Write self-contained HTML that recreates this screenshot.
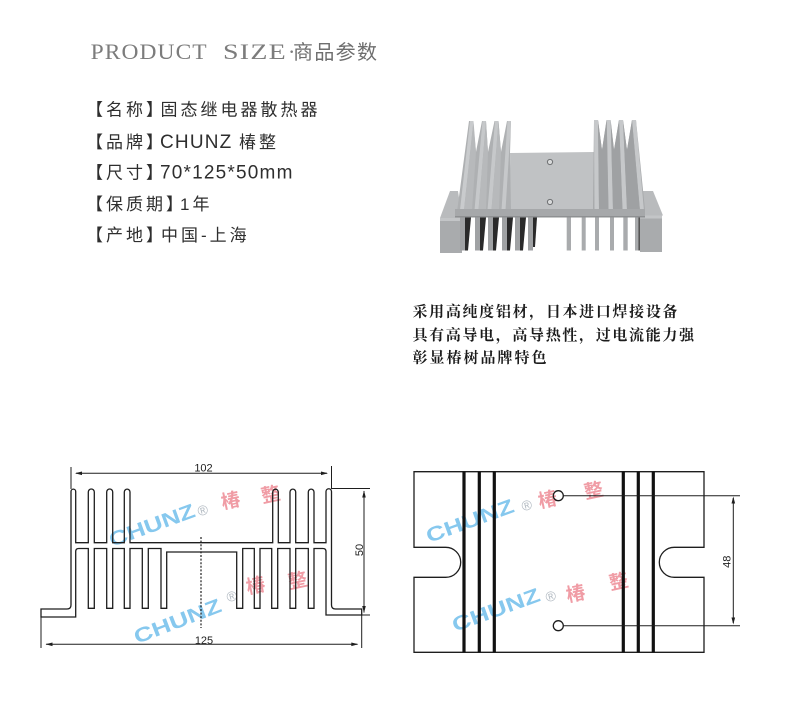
<!DOCTYPE html>
<html><head><meta charset="utf-8"><style>
html,body{margin:0;padding:0;background:#fff;}
svg{display:block;}
</style></head><body>
<svg width="800" height="713" viewBox="0 0 800 713" xmlns="http://www.w3.org/2000/svg">
<rect width="800" height="713" fill="#fff"/>

<!-- Header -->
<g font-family="'Liberation Serif',serif" font-size="22" fill="#7c7c7c">
<text x="90.7" y="59" textLength="117" lengthAdjust="spacingAndGlyphs" letter-spacing="1">PRODUCT</text>
<text x="223" y="59" textLength="64" lengthAdjust="spacingAndGlyphs" letter-spacing="1">SIZE</text>
<text x="288" y="59">·</text>
</g>
<text x="293" y="59" font-family="'Noto Sans CJK SC',sans-serif" font-size="20" fill="#6e6e6e" textLength="84" lengthAdjust="spacing">商品参数</text>

<!-- Spec list -->
<g font-family="'Liberation Sans','Noto Sans CJK SC',sans-serif" font-size="17" fill="#2e2e2e" letter-spacing="3">
<text x="86" y="115.5">【名称】</text><text x="160.5" y="115.5">固态继电器散热器</text>
<text x="86" y="148">【品牌】</text>
<text x="86" y="178.5">【尺寸】</text>
<text x="86" y="209.8">【保质期】</text><text x="180" y="209.8">1年</text>
<text x="86" y="240.8">【产地】</text><text x="161" y="240.8">中国-上海</text>
</g>
<g font-family="'Liberation Sans','Noto Sans CJK SC',sans-serif" font-size="19" fill="#2e2e2e" letter-spacing="1.2">
<text x="160" y="148">CHUNZ <tspan font-size="17" letter-spacing="3">椿整</tspan></text>
<text x="160" y="178.5">70*125*50mm</text>
</g>

<!-- Photo of heatsink -->
<g>
<!-- left flange -->
<polygon points="450,191 458,191 462,218 440,218" fill="#b9bbbd"/>
<rect x="440" y="218" width="22" height="35" fill="#a9abad"/>
<rect x="440" y="218" width="22" height="3" fill="#c3c5c7"/>
<!-- right flange -->
<polygon points="641.7,191 653,191 663,215.5 643,215.5" fill="#b9bbbd"/>
<rect x="640" y="215.5" width="22" height="36.5" fill="#a9abad"/>
<rect x="640" y="215.5" width="22" height="3" fill="#c3c5c7"/>
<!-- left upper fins block -->
<polygon points="457,212 469,121 473,121 476,152 482,121 486,121 488,152 494.5,121 498.5,121 501,152 507,121 511,121 510,153 512,212" fill="#aeb0b2"/>
<polygon points="470,121 473.5,121 464,210 460,210" fill="#c9cbcd"/>
<polygon points="482.5,121 486,121 478.5,210 474.5,210" fill="#c6c8ca"/>
<polygon points="495,121 498.5,121 491.5,210 487.5,210" fill="#c6c8ca"/>
<polygon points="507.5,121 511,121 505.5,210 501.5,210" fill="#c6c8ca"/>
<polygon points="464,210 473.5,121 476,152 472,210" fill="#b7b9bb"/>
<polygon points="478.5,210 486,121 488,152 486,210" fill="#b7b9bb"/>
<polygon points="491.5,210 498.5,121 501,152 499,210" fill="#b7b9bb"/>
<!-- plate top -->
<polygon points="510,153 594,152 594,209 511,209" fill="#c0c2c4"/>
<circle cx="550" cy="162" r="2.6" fill="#d8d9da" stroke="#6f7173" stroke-width="1"/>
<circle cx="550" cy="202" r="2.6" fill="#d8d9da" stroke="#6f7173" stroke-width="1"/>
<!-- right upper fins block -->
<polygon points="593,210 594,120 598,120 602,150 606.5,120 610.5,120 614,150 619,120 623,120 627,150 632,120 636,120 643,190 645,210" fill="#a7a9ab"/>
<polygon points="594,120 598,120 599,210 594.5,210" fill="#c6c8ca"/>
<polygon points="606.7,120 610.7,120 613,210 608.5,210" fill="#c6c8ca"/>
<polygon points="619,120 623,120 627,210 622.5,210" fill="#c6c8ca"/>
<polygon points="632,120 636,120 644,211 640,211" fill="#c6c8ca"/>
<polygon points="599,210 598,120 602,150 606.7,120 608.5,210" fill="#9fa1a3"/>
<polygon points="613,210 610.7,120 614,150 619,120 622.5,210" fill="#9fa1a3"/>
<polygon points="627,210 623,120 627,150 632,120 640,211" fill="#9fa1a3"/>
<!-- plate front band -->
<rect x="455" y="209" width="190" height="8.5" fill="#a6a8aa"/>
<rect x="455" y="216" width="190" height="1.5" fill="#8e9092"/>
<!-- lower left fins -->
<g fill="#2a2a2a">
<polygon points="465,217.5 471,217.5 468,250.5 465,250.5"/>
<polygon points="480,217.5 486,217.5 483,250.5 480,250.5"/>
<polygon points="493,217.5 499,217.5 496,250.5 493,250.5"/>
<polygon points="507,217.5 513,217.5 510,250.5 507,250.5"/>
<polygon points="520,217.5 526,217.5 523,250.5 520,250.5"/>
<polygon points="533,217.5 537,217.5 535,247 533,247"/>
</g>
<g fill="#a0a2a4">
<rect x="460" y="217.5" width="5" height="33"/><rect x="475" y="217.5" width="5" height="33"/>
<rect x="488" y="217.5" width="5" height="33"/><rect x="502" y="217.5" width="5" height="33"/>
<rect x="515" y="217.5" width="5" height="33"/><rect x="528" y="217.5" width="5" height="33"/>
</g>
<!-- lower right fins -->
<g fill="#a9abad">
<rect x="566.7" y="217.5" width="4.3" height="33"/><rect x="581.7" y="217.5" width="4" height="33"/>
<rect x="595" y="217.5" width="4" height="33"/><rect x="610" y="217.5" width="4" height="33"/>
<rect x="623.3" y="217.5" width="4.4" height="33"/><rect x="635" y="217.5" width="3.3" height="33"/>
</g>
<rect x="638.3" y="217.5" width="1.7" height="33" fill="#555"/>
</g>

<!-- Description text -->
<g font-family="'Noto Serif CJK SC','Noto Sans CJK SC',serif" font-size="15" font-weight="700" fill="#1c1c1c">
<text x="412.5" y="316.4" textLength="265" lengthAdjust="spacing">采用高纯度铝材，日本进口焊接设备</text>
<text x="412.5" y="340" textLength="281.5" lengthAdjust="spacing">具有高导电，高导热性，过电流能力强</text>
<text x="412.5" y="362.4" textLength="134" lengthAdjust="spacing">彰显椿树品牌特色</text>
</g>

<!-- Watermarks -->
<g font-family="'Liberation Sans','Noto Sans CJK SC',sans-serif" font-weight="700">
<text x="0" y="0" transform="translate(112,547) rotate(-20)" font-size="20" fill="#86c8ee" textLength="90" lengthAdjust="spacingAndGlyphs">CHUNZ</text>
<text x="0" y="0" transform="translate(204,515) rotate(-15)" font-size="14" fill="#b2bac2" font-weight="400" text-anchor="middle">®</text>
<text x="0" y="0" transform="translate(232,507) rotate(-12)" font-size="19" fill="#f09ca5" text-anchor="middle">椿</text>
<text x="0" y="0" transform="translate(272,501) rotate(-12)" font-size="19" fill="#f09ca5" text-anchor="middle">整</text>

<text x="0" y="0" transform="translate(137,644) rotate(-21)" font-size="20" fill="#86c8ee" textLength="92" lengthAdjust="spacingAndGlyphs">CHUNZ</text>
<text x="0" y="0" transform="translate(233,601) rotate(-15)" font-size="14" fill="#b2bac2" font-weight="400" text-anchor="middle">®</text>
<text x="0" y="0" transform="translate(257,592) rotate(-12)" font-size="19" fill="#f09ca5" text-anchor="middle">椿</text>
<text x="0" y="0" transform="translate(299,587) rotate(-12)" font-size="19" fill="#f09ca5" text-anchor="middle">整</text>

<text x="0" y="0" transform="translate(429,543) rotate(-20)" font-size="20" fill="#86c8ee" textLength="92" lengthAdjust="spacingAndGlyphs">CHUNZ</text>
<text x="0" y="0" transform="translate(528,510) rotate(-15)" font-size="14" fill="#b2bac2" font-weight="400" text-anchor="middle">®</text>
<text x="0" y="0" transform="translate(549,506) rotate(-12)" font-size="19" fill="#f09ca5" text-anchor="middle">椿</text>
<text x="0" y="0" transform="translate(595,497) rotate(-12)" font-size="19" fill="#f09ca5" text-anchor="middle">整</text>

<text x="0" y="0" transform="translate(455,632) rotate(-20)" font-size="20" fill="#86c8ee" textLength="92" lengthAdjust="spacingAndGlyphs">CHUNZ</text>
<text x="0" y="0" transform="translate(552,601) rotate(-15)" font-size="14" fill="#b2bac2" font-weight="400" text-anchor="middle">®</text>
<text x="0" y="0" transform="translate(577,600) rotate(-12)" font-size="19" fill="#f09ca5" text-anchor="middle">椿</text>
<text x="0" y="0" transform="translate(620,588) rotate(-12)" font-size="19" fill="#f09ca5" text-anchor="middle">整</text>
</g>

<!-- Left drawing -->
<g fill="none" stroke="#1e1e1e" stroke-width="1.3">
<path d="M71,605 V491.5 A2.35,2.35 0 0 1 75.7,491.5 V542.7 H88.3
V492 A3,3 0 0 1 94.3,492 V542.7 H106.7
V492 A3,3 0 0 1 112.7,492 V542.7 H124.3
V492 A2.85,2.85 0 0 1 130,492 V542.7 H272.7
V492 A2.8,2.8 0 0 1 278.3,492 V542.7 H290
V492 A2.85,2.85 0 0 1 295.7,492 V542.7 H308.3
V492 A2.85,2.85 0 0 1 314,492 V542.7 H326
V491.5 A2.75,2.75 0 0 1 331.5,491.5
V605 Q331.5,609 335.5,609 H361.7 V615 H326 V551.5 Q326,548.5 323,548.5 H314
V608.3 H308.3 V548.5 H295.7 V608.3 H290 V548.5 H277.7 V608.3 H271.7 V548.5 H260 V608.3 H254.3 V548.5 H242.7 V608.3 H236.7 V552 H166.7 V608.3 H161 V548.5 H148.3 V608.3 H142.3 V548.5 H130 V608.3 H124.3 V548.5 H112.7 V608.3 H106.7 V548.5 H94.3 V608.3 H88.3 V548.5 H78.7 Q75.7,548.5 75.7,551.5 V617 H41 V609 H67 Q71,609 71,605 Z"/>
</g>
<g stroke="#1e1e1e" stroke-width="1" fill="none">
<!-- 102 dimension -->
<line x1="71" y1="467" x2="71" y2="489"/>
<line x1="331.5" y1="466" x2="331.5" y2="489"/>
<line x1="76" y1="473.3" x2="327" y2="473.3"/>
<!-- 125 dimension -->
<line x1="41" y1="617" x2="41" y2="648"/>
<line x1="361.7" y1="615" x2="361.7" y2="648"/>
<line x1="46" y1="644.3" x2="357.5" y2="644.3"/>
<!-- 50 dimension -->
<line x1="332" y1="488.5" x2="370" y2="488.5"/>
<line x1="361.7" y1="615" x2="370" y2="615"/>
<line x1="364" y1="491" x2="364" y2="612.5"/>
<!-- center dashed -->
<line x1="201" y1="537" x2="201" y2="628" stroke-dasharray="2,1.6" stroke-width="1.2"/>
</g>
<g fill="#1e1e1e">
<polygon points="75,473.3 82,471.5 82,475.1"/>
<polygon points="328,473.3 321,471.5 321,475.1"/>
<polygon points="45.5,644.3 52.5,642.5 52.5,646.1"/>
<polygon points="358.3,644.3 351.3,642.5 351.3,646.1"/>
<polygon points="364,490.5 362.2,497.5 365.8,497.5"/>
<polygon points="364,613 362.2,606 365.8,606"/>
</g>
<g font-family="'Liberation Sans',sans-serif" font-size="11" fill="#1e1e1e" text-anchor="middle">
<text x="203.5" y="471.7">102</text>
<text x="204" y="643.8">125</text>
<text x="0" y="0" transform="translate(362.8,550) rotate(-90)">50</text>
</g>

<!-- Right drawing -->
<g fill="none" stroke="#1e1e1e" stroke-width="1.3">
<path d="M414,471.7 H704 V547.3 H674.3 A15,15 0 0 0 674.3,577.3 H704 V652.3 H414 V577.3 H445.7 A15,15 0 0 0 445.7,547.3 H414 Z"/>
<circle cx="558.3" cy="495.7" r="5"/>
<circle cx="558.3" cy="625.7" r="5"/>
</g>
<g stroke="#111" stroke-width="3.2">
<line x1="464" y1="471.7" x2="464" y2="652.3"/>
<line x1="479.3" y1="471.7" x2="479.3" y2="652.3"/>
<line x1="494.3" y1="471.7" x2="494.3" y2="652.3"/>
<line x1="623.3" y1="471.7" x2="623.3" y2="652.3"/>
<line x1="638.3" y1="471.7" x2="638.3" y2="652.3"/>
<line x1="653.3" y1="471.7" x2="653.3" y2="652.3"/>
</g>
<g stroke="#1e1e1e" stroke-width="1" fill="none">
<line x1="563.3" y1="495.7" x2="740" y2="495.7"/>
<line x1="563.3" y1="625.7" x2="740" y2="625.7"/>
<line x1="733.3" y1="498" x2="733.3" y2="623"/>
</g>
<g fill="#1e1e1e">
<polygon points="733.3,496.5 731.5,503.5 735.1,503.5"/>
<polygon points="733.3,624.5 731.5,617.5 735.1,617.5"/>
</g>
<text x="0" y="0" transform="translate(730.5,561.7) rotate(-90)" font-family="'Liberation Sans',sans-serif" font-size="11" fill="#1e1e1e" text-anchor="middle">48</text>
</svg>
</body></html>
